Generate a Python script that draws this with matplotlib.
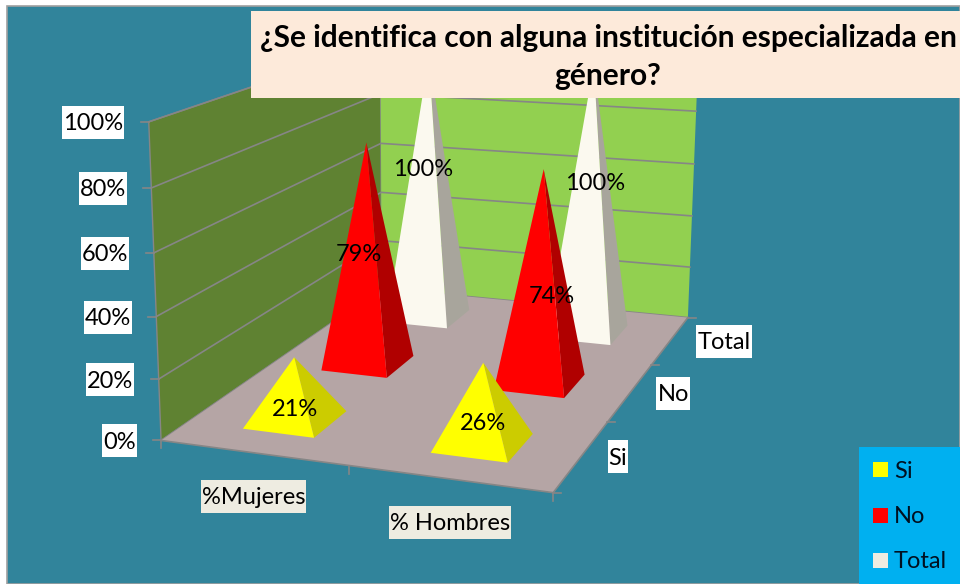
# Grafico de piramides 3D: identificacion con instituciones especializadas en genero.
# Las piramides se proyectan a pixeles con una camara ajustada a las esquinas del grafico.

import matplotlib
matplotlib.use("Agg")
import matplotlib.pyplot as plt
from matplotlib.patches import Polygon, Rectangle
import numpy as np

categorias = ["%Mujeres", "% Hombres"]
series = ["Si", "No", "Total"]
si = [21, 26]
no = [79, 74]
total = [100, 100]
ticks_y = [0, 20, 40, 60, 80, 100]
titulo = "¿Se identifica con alguna institución especializada en\ngénero?"

plt.rcParams["font.family"] = ["Lato", "DejaVu Sans"]

FONDO = "#31849B"
GRIS = "#868686"
TAM = 17

# esquinas de la caja: (u, profundidad, altura) -> pixel
esquinas = [
    ((0, 0, 0), (161.7, 440)),
    ((0, 0, 1), (148.3, 121.7)),
    ((0, 1, 0), (381, 289)),
    ((0, 1, 1), (381, 43)),
    ((1, 1, 0), (688.3, 316.7)),
    ((1, 1, 1), (698, 58)),
    ((1, 0, 0), (553, 493.3)),
]


def ajustar_camara(puntos):
    """Ajusta la matriz de proyeccion 3x4 por minimos cuadrados."""
    filas = []
    for (x, y, z), (px, py) in puntos:
        filas.append([x, y, z, 1, 0, 0, 0, 0, -px * x, -px * y, -px * z, -px])
        filas.append([0, 0, 0, 0, x, y, z, 1, -py * x, -py * y, -py * z, -py])
    _, _, vt = np.linalg.svd(np.array(filas, dtype=float))
    return vt[-1].reshape(3, 4)


camara = ajustar_camara(esquinas)


def proyectar(u, d, v):
    p = camara @ np.array([u, d, v, 1.0])
    return p[0] / p[2], p[1] / p[2]


def etiqueta(x, y, texto, ha, fondo):
    """Texto con una caja de fondo de alto fijo, como las del grafico original."""
    t = ax.text(x, y + 1.5, texto, ha=ha, va="center", fontsize=TAM, color="black", zorder=6.5)
    caja = t.get_window_extent(fig.canvas.get_renderer())
    ax.add_patch(Rectangle((caja.x0 - 1, y - 16.5), caja.width + 2, 33, facecolor=fondo, edgecolor="none", zorder=6))


fig = plt.figure(figsize=(9.6, 5.84), dpi=100, facecolor="white")
ax = fig.add_axes([0, 0, 1, 1])
ax.set_xlim(0, 960)
ax.set_ylim(584, 0)
ax.axis("off")

# fondo del grafico
ax.add_patch(Rectangle((7, 6), 953, 578, facecolor=FONDO, edgecolor="#A0A0A0", linewidth=1.2))

# paredes y piso
ax.add_patch(Polygon([proyectar(0, 0, 0), proyectar(0, 1, 0), proyectar(0, 1, 1), proyectar(0, 0, 1)],
                     facecolor="#5F8232", edgecolor=GRIS, linewidth=1, zorder=1))
ax.add_patch(Polygon([proyectar(0, 1, 0), proyectar(1, 1, 0), proyectar(1, 1, 1), proyectar(0, 1, 1)],
                     facecolor="#92D050", edgecolor="none", zorder=1))
ax.add_patch(Polygon([proyectar(0, 0, 0), proyectar(1, 0, 0), proyectar(1, 1, 0), proyectar(0, 1, 0)],
                     facecolor="#B5A5A5", edgecolor="none", zorder=1.5))

# lineas de division y marcas del eje de valores
for t in ticks_y:
    v = t / 100
    ax.plot(*zip(proyectar(0, 0, v), proyectar(0, 1, v), proyectar(1, 1, v)), color=GRIS, lw=1.2, zorder=1.2)
    x0, y0 = proyectar(0, 0, v)
    ax.plot([x0 - 8, x0], [y0, y0], color=GRIS, lw=1.2, zorder=2)
    etiqueta(x0 - 25.5, y0 + 0.5, f"{t}%", "right", "white")

# ejes del piso
ax.plot(*zip(proyectar(0, 0, 0), proyectar(1, 0, 0), proyectar(1, 1, 0)), color=GRIS, lw=1.2, zorder=2)
for u in [0, 0.5, 1]:
    x0, y0 = proyectar(u, 0, 0)
    ax.plot([x0, x0], [y0, y0 + 8], color=GRIS, lw=1.2, zorder=2)
for d in [0, 1 / 3, 2 / 3, 1]:
    x0, y0 = proyectar(1, d, 0)
    ax.plot([x0, x0 + 8], [y0, y0], color=GRIS, lw=1.2, zorder=2)

# etiquetas de categorias y series
for i, cat in enumerate(categorias):
    x0, y0 = proyectar((i + 0.5) / 2, 0, 0)
    etiqueta(x0 + 0.5, y0 + 43.5, cat, "center", "#EEECE1")
for j, ser in enumerate(series):
    x0, y0 = proyectar(1, (j + 0.5) / 3, 0)
    etiqueta(x0 + 27, y0 + 1, ser, "left", "white")

# piramides, de atras hacia adelante
colores = {"Si": ("#FFFF00", "#CCCC00"), "No": ("#FF0000", "#B00000"), "Total": ("#FBF9EF", "#A8A59C")}
valores = {"Si": si, "No": no, "Total": total}
MEDIO_U = 0.097
MEDIO_D = 0.07
orden = 3
for j in [2, 1, 0]:
    ser = series[j]
    for i in range(len(categorias)):
        val = valores[ser][i] / 100
        cu = (i + 0.5) / 2
        cd = (j + 0.5) / 3
        cima = proyectar(cu, cd, val)
        fi = proyectar(cu - MEDIO_U, cd - MEDIO_D, 0)
        fd = proyectar(cu + MEDIO_U, cd - MEDIO_D, 0)
        ad = proyectar(cu + MEDIO_U, cd + MEDIO_D, 0)
        ax.add_patch(Polygon([fd, ad, cima], facecolor=colores[ser][1], edgecolor="none", zorder=orden))
        ax.add_patch(Polygon([fi, fd, cima], facecolor=colores[ser][0], edgecolor="none", zorder=orden))
        orden += 0.1

# etiquetas de datos, a media altura con el ajuste de cada una en pixeles
ajuste = {"Si": [(0, 21), (0, 20)], "No": [(-8, 0), (10, 19)], "Total": [(-5, -20), (5, -18)]}
for j, ser in enumerate(series):
    for i in range(len(categorias)):
        val = valores[ser][i] / 100
        x0, y0 = proyectar((i + 0.5) / 2, (j + 0.5) / 3, val / 2)
        dx, dy = ajuste[ser][i]
        ax.text(x0 + dx, y0 + dy, f"{valores[ser][i]}%", ha="center", va="center", fontsize=TAM,
                color="black", zorder=5.5)

# titulo
ax.add_patch(Rectangle((251, 11), 709, 87, facecolor="#FDEADA", edgecolor="none", zorder=7))
ax.text(608, 57, titulo, ha="center", va="center", fontsize=21.5, fontweight="bold", color="black",
        linespacing=1.45, zorder=8)

# leyenda
ax.add_patch(Rectangle((859, 447), 101, 137, facecolor="#00B0F0", edgecolor="none", zorder=7))
for j, ser in enumerate(series):
    y0 = 469.5 + j * 45.5
    color = "#EEECE1" if ser == "Total" else colores[ser][0]
    ax.add_patch(Rectangle((873, y0 - 7.5), 15, 15, facecolor=color, edgecolor="none", zorder=8))
    ax.text(894, y0 + 1.5, ser, ha="left", va="center", fontsize=TAM, color="#001020", zorder=8)

fig.savefig("out.png", dpi=100)
